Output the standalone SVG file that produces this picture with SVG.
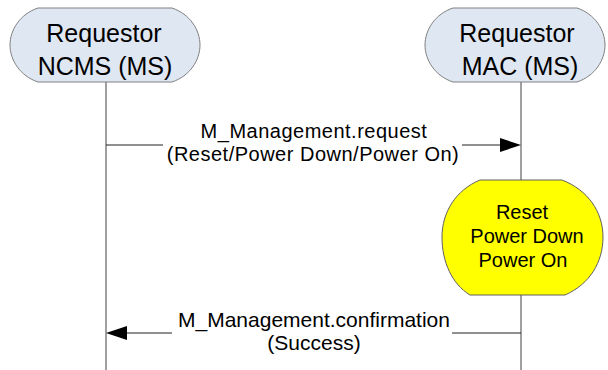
<svg xmlns="http://www.w3.org/2000/svg" width="608" height="370" viewBox="0 0 608 370">
<style>
text{font-family:"Liberation Sans",Arial,sans-serif;fill:#000;text-anchor:middle}
.node{font-size:25px}
.lbl{font-size:21px}
.lbl2{font-size:20px;letter-spacing:0.5px}
.act{font-size:20px}
.hdr{fill:#dfe7f3;stroke:#808080;stroke-width:1}
.life{stroke:#404040;stroke-width:1;fill:none}
.msg{stroke:#202020;stroke-width:1;fill:none}
.head{fill:#000;stroke:none}
</style>
<rect width="608" height="370" fill="#fff"/>
<g id="connectors">
<line class="life" x1="106" y1="82" x2="106" y2="370"/>
<line class="life" x1="521" y1="82" x2="521" y2="370"/>
<line class="msg" x1="106" y1="145" x2="163" y2="145"/>
<line class="msg" x1="462" y1="145" x2="502" y2="145"/>
<polygon class="head" points="500,138 521,145 500,152"/>
<line class="msg" x1="125" y1="333" x2="172" y2="333"/>
<line class="msg" x1="452" y1="333" x2="521" y2="333"/>
<polygon class="head" points="106,333 127,326 127,340"/>
<text class="lbl2" x="314" y="138">M_Management.request</text>
<text class="lbl2" x="313" y="161">(Reset/Power Down/Power On)</text>
<text class="lbl" x="314" y="327">M_Management.confirmation</text>
<text class="lbl" x="314" y="350">(Success)</text>
</g>
<g id="ncms">
<path class="hdr" d="M38,8 H172 C190,14 200,30 200,45 C200,60 190,76 172,82 H38 C20,76 10,60 10,45 C10,30 20,14 38,8 Z"/>
<text class="node" x="104" y="42">Requestor</text>
<text class="node" x="105" y="75">NCMS (MS)</text>
</g>
<g id="mac">
<path class="hdr" d="M453,8 H577 C595,14 605,30 605,45 C605,60 595,76 577,82 H453 C435,76 425,60 425,45 C425,30 435,14 453,8 Z"/>
<text class="node" x="517" y="42">Requestor</text>
<text class="node" x="520" y="75">MAC (MS)</text>
</g>
<g id="action">
<path d="M480,180 H562 C588,190 603,212 603,237 C603,262 590,284 565,295 H470 C452,284 442,262 442,237 C442,212 456,190 480,180 Z" fill="#ffff00" stroke="#606060" stroke-width="1"/>
<text class="act" x="522" y="219">Reset</text>
<text class="act" x="527" y="243">Power Down</text>
<text class="act" x="523" y="267">Power On</text>
</g>
</svg>
